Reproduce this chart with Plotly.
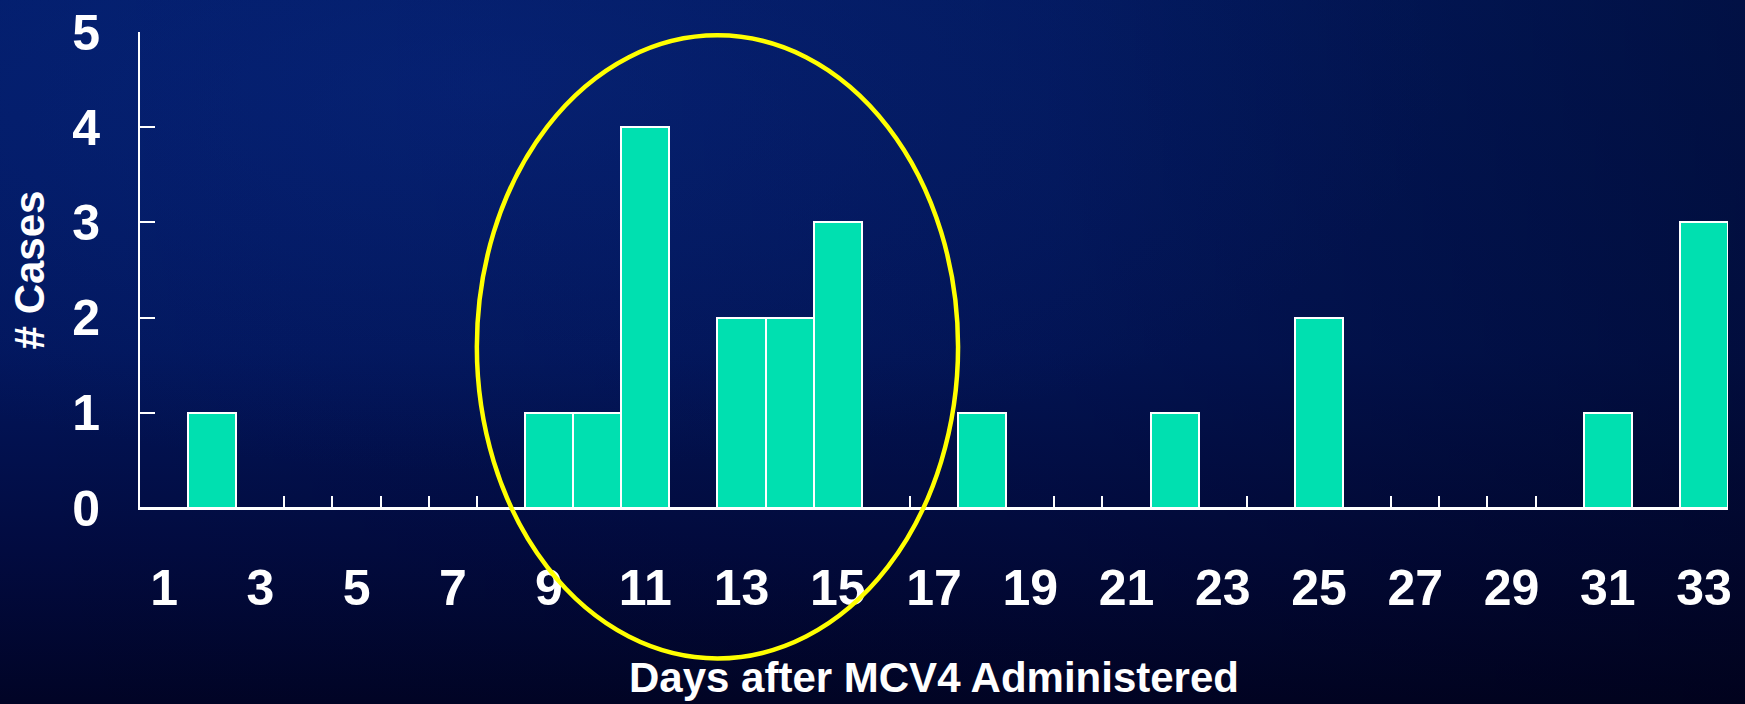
import base64
import plotly.graph_objects as go

# ---- data ----
days = list(range(1, 34))
cases = [0, 1, 0, 0, 0, 0, 0, 0, 1, 1, 4, 0, 2, 2, 3, 0, 0, 1, 0, 0,
         0, 1, 0, 0, 2, 0, 0, 0, 0, 0, 1, 0, 3]
tick_days = list(range(1, 34, 2))
y_ticks = [0, 1, 2, 3, 4, 5]
highlight_days = (7.5, 17.5)      # day span enclosed by the ellipse
highlight_cases = (-1.58, 4.965)  # case span of the ellipse (extends below axis)

x_title = "Days after MCV4 Administered"
y_title = "# Cases"

# ---- background gradient (SVG data URI) ----
W, H = 1745, 704
svg = f"""<svg xmlns='http://www.w3.org/2000/svg' width='{W}' height='{H}' viewBox='0 0 {W} {H}' preserveAspectRatio='none'>
<defs>
<linearGradient id='v' x1='0' y1='0' x2='0' y2='1'>
<stop offset='0' stop-color='#021c68'/>
<stop offset='0.5' stop-color='#02165c'/>
<stop offset='0.78' stop-color='#020b40'/>
<stop offset='1' stop-color='#010426'/>
</linearGradient>
<radialGradient id='r' cx='0.28' cy='0.12' r='0.55'>
<stop offset='0' stop-color='#0a2a88' stop-opacity='0.5'/>
<stop offset='1' stop-color='#0a2a88' stop-opacity='0'/>
</radialGradient>
<linearGradient id='h' x1='0' y1='0' x2='1' y2='0'>
<stop offset='0' stop-color='#000010' stop-opacity='0'/>
<stop offset='0.6' stop-color='#000010' stop-opacity='0.12'/>
<stop offset='1' stop-color='#000010' stop-opacity='0.4'/>
</linearGradient>
</defs>
<rect width='{W}' height='{H}' fill='url(#v)'/>
<rect width='{W}' height='{H}' fill='url(#r)'/>
<rect width='{W}' height='{H}' fill='url(#h)'/>
</svg>"""
bg_src = "data:image/svg+xml;base64," + base64.b64encode(svg.encode()).decode()

ML, MR, MT, MB = 140, 17, 32, 196
PW, PH = W - ML - MR, H - MT - MB

FONT = "Liberation Sans, Arial, Helvetica, sans-serif"
y_max = y_ticks[-1]

fig = go.Figure()
fig.add_trace(go.Bar(
    x=days, y=cases,
    marker=dict(color="#00E0B0", line=dict(color="white", width=2)),
    width=1.0,
    hoverinfo="x+y",
))

fig.update_layout(
    width=W, height=H,
    autosize=False,
    margin=dict(l=ML, r=MR, t=MT, b=MB, autoexpand=False),
    paper_bgcolor="#02165c",
    plot_bgcolor="rgba(0,0,0,0)",
    showlegend=False,
    bargap=0,
    font=dict(family=FONT, color="white", weight="bold"),
    images=[dict(
        source=bg_src, xref="paper", yref="paper",
        x=-ML / PW, y=1 + MT / PH, sizex=W / PW, sizey=H / PH,
        xanchor="left", yanchor="top", sizing="stretch", layer="below",
    )],
    shapes=[dict(
        type="circle", xref="x", yref="paper",
        x0=highlight_days[0], x1=highlight_days[1],
        y0=highlight_cases[0] / y_max, y1=highlight_cases[1] / y_max,
        line=dict(color="#FFFF00", width=4.5),
        layer="above",
    )],
)

fig.update_xaxes(
    range=[0.5, 33.5],
    automargin=False,
    tickmode="array", tickvals=tick_days, ticktext=[str(d) for d in tick_days],
    ticks="",
    minor=dict(tickmode="array", tickvals=[d + 0.5 for d in days[:-1]],
               ticks="inside", ticklen=12, tickwidth=2, tickcolor="white",
               showgrid=False),
    tickfont=dict(size=50, color="white", family=FONT, weight="bold"),
    ticklabelstandoff=35,
    showline=True, linecolor="white", linewidth=2,
    showgrid=False, zeroline=False,
    layer="below traces",
    title=dict(text=x_title, font=dict(size=42, color="white", family=FONT, weight="bold"),
               standoff=48),
)
fig.update_yaxes(
    range=[0, y_max],
    automargin=False,
    tickmode="array", tickvals=y_ticks,
    ticks="inside", ticklen=15, tickwidth=2, tickcolor="white",
    tickfont=dict(size=50, color="white", family=FONT, weight="bold"),
    ticklabelstandoff=28,
    showline=True, linecolor="white", linewidth=2,
    showgrid=False, zeroline=False,
    layer="below traces",
    title=dict(text=y_title, font=dict(size=42, color="white", family=FONT, weight="bold"),
               standoff=14),
)

fig.write_html(
    "out.html",
    config={"displayModeBar": False},
    post_script="document.body.style.margin='0';document.body.style.background='#010426';document.body.style.overflow='hidden';",
)
